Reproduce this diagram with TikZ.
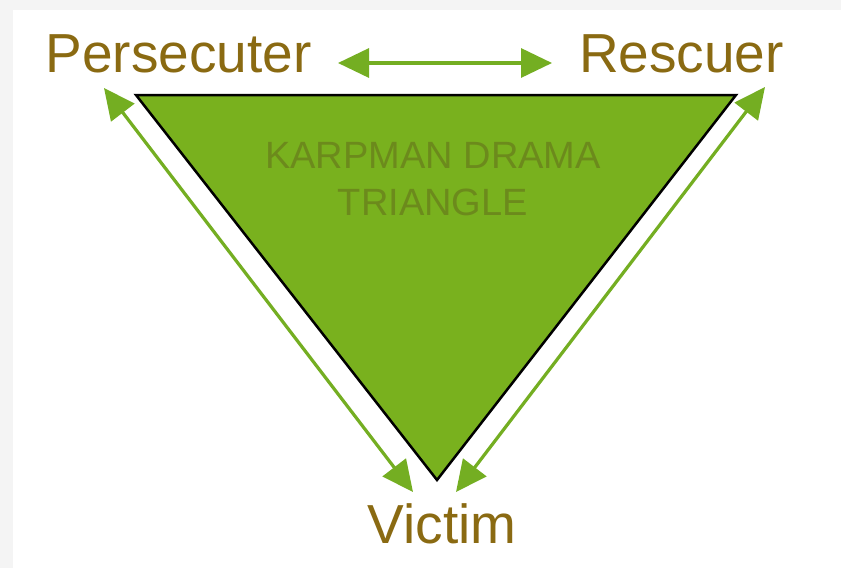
\documentclass[tikz,border=0pt]{standalone}
\usepackage{fontspec}
\setmainfont{Liberation Sans}
\usetikzlibrary{arrows.meta}
\definecolor{trifill}{HTML}{79B11E}
\definecolor{arrgreen}{HTML}{74AE22}
\definecolor{labgold}{HTML}{8A6A12}
\definecolor{titleol}{HTML}{6C8A1C}
\definecolor{edgegrey}{HTML}{F4F4F4}
\tikzset{
  lab/.style={text=labgold, font=\fontsize{55}{60}\selectfont, anchor=base, inner sep=0pt},
  ttl/.style={text=titleol, font=\fontsize{38}{47}\selectfont, align=center, anchor=base, inner sep=0pt},
  twoway/.style={draw=arrgreen, line width=3.2pt, {Triangle[length=31pt,width=29pt]}-{Triangle[length=31pt,width=29pt]}},
  tri/.style={fill=trifill, draw=black, line width=2.5pt, line join=miter}
}
\begin{document}
\begin{tikzpicture}[x=1pt,y=-1pt]
\useasboundingbox (0,0) rectangle (841,568);
\fill[edgegrey] (0,0) rectangle (841,568);
\fill[white] (13,10) rectangle (841,568);
% triangle
\coordinate (tl) at (136,95);
\coordinate (tr) at (736,95);
\coordinate (bt) at (437,480);
\path[tri] (tl) -- (tr) -- (bt) -- cycle;
\node[ttl] (t1) at (433,168) {KARPMAN DRAMA};
\node[ttl] (t2) at (433,215) {TRIANGLE};
% labels
\node[lab] (pers) at (178.5,72) {Persecuter};
\node[lab] (resc) at (681.5,72) {Rescuer};
\node[lab] (vict) at (442,543) {Victim};
% arrow ends
\coordinate (h1) at (338,63);
\coordinate (h2) at (552,63);
\coordinate (l1) at (104,88);
\coordinate (l2) at (413,492);
\coordinate (r1) at (765,87);
\coordinate (r2) at (456,492);
\draw[twoway] (h1) -- (h2);
\draw[twoway] (l1) -- (l2);
\draw[twoway] (r1) -- (r2);
\end{tikzpicture}
\end{document}
